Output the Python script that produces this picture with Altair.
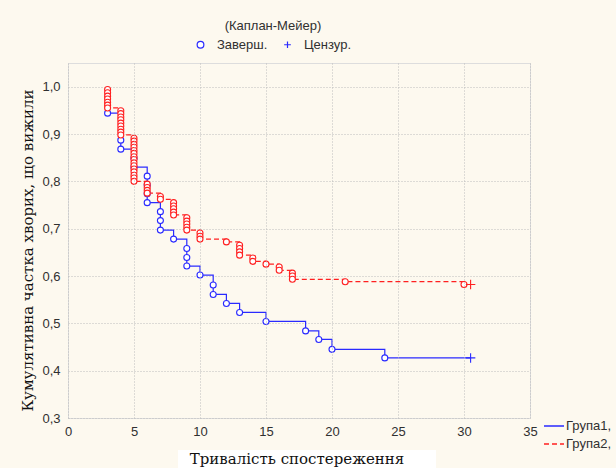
import altair as alt
import pandas as pd

# ---- data ----
groups = ["Група1,", "Група2,"]
kinds = ["Заверш.", "Цензур."]
colors = ["#2a2aff", "#ff2020"]

g1_time = [3, 4, 4, 5, 5, 6, 6, 6, 6, 7, 7, 7, 8, 9, 9, 9, 10, 11, 11, 12, 13, 15, 18, 19, 20, 24]
g1_surv = [0.944, 0.887, 0.868, 0.849, 0.830, 0.811, 0.792, 0.774, 0.755, 0.736, 0.717, 0.697,
           0.678, 0.658, 0.639, 0.621, 0.602, 0.581, 0.561, 0.542, 0.523, 0.504, 0.484, 0.466,
           0.445, 0.427]
g1_cens_time = [30.5]
g1_cens_surv = [0.427]

g2_time = [3, 3, 3, 3, 3, 3, 3,
           4, 4, 4, 4, 4, 4, 4, 4, 4,
           5, 5, 5, 5, 5, 5, 5, 5, 5, 5, 5, 5, 5, 5, 5,
           6, 6, 6, 6,
           7, 7,
           8, 8, 8, 8, 8,
           9, 9, 9, 9, 9,
           10, 10, 10,
           12,
           13, 13, 13, 13,
           14, 14,
           15,
           16, 16,
           17, 17, 17,
           21,
           30]
g2_surv = [0.994, 0.987, 0.980, 0.974, 0.967, 0.961, 0.955,
           0.949, 0.943, 0.936, 0.930, 0.923, 0.917, 0.910, 0.904, 0.898,
           0.891, 0.885, 0.878, 0.872, 0.865, 0.859, 0.852, 0.846, 0.839, 0.833, 0.826, 0.820,
           0.813, 0.807, 0.800,
           0.794, 0.787, 0.781, 0.775,
           0.768, 0.762,
           0.755, 0.748, 0.742, 0.735, 0.729,
           0.723, 0.716, 0.710, 0.703, 0.697,
           0.691, 0.684, 0.678,
           0.672,
           0.665, 0.658, 0.651, 0.644,
           0.638, 0.631,
           0.625,
           0.619, 0.612,
           0.606, 0.600, 0.593,
           0.588,
           0.582]
g2_cens_time = [30.5]
g2_cens_surv = [0.582]

x_ticks = [0, 5, 10, 15, 20, 25, 30, 35]
y_ticks = [0.3, 0.4, 0.5, 0.6, 0.7, 0.8, 0.9, 1.0]

# ---- tables ----
line_rows, pt_rows = [], []
series = [
    (groups[0], g1_time, g1_surv, g1_cens_time, g1_cens_surv),
    (groups[1], g2_time, g2_surv, g2_cens_time, g2_cens_surv),
]
for g, tt, ss, ct, cs in series:
    i = 0
    for t, s in zip(tt, ss):
        line_rows.append({"t": t, "s": s, "group": g, "idx": i}); i += 1
        pt_rows.append({"t": t, "s": s, "group": g, "kind": kinds[0], "ksz": "a"})
    for t, s in zip(ct, cs):
        line_rows.append({"t": t, "s": s, "group": g, "idx": i}); i += 1
        pt_rows.append({"t": t, "s": s, "group": g, "kind": kinds[1], "ksz": "b"})
line_df = pd.DataFrame(line_rows)
pt_df = pd.DataFrame(pt_rows)

SANS = "Liberation Sans"
SERIF = "DejaVu Serif"
TXT = "#303030"

xscale = alt.Scale(domain=[0, 35], nice=False, zero=False)
yscale = alt.Scale(domain=[0.3, 1.05], nice=False, zero=False)
shape_scale = alt.Scale(domain=kinds, range=["circle", "M-1,0H1M0,-1V1"])
size_scale = alt.Scale(domain=["a", "b"], range=[36, 90])

xaxis = alt.Axis(values=x_ticks, title="Тривалість спостереження", titleFont=SERIF,
                 titleFontSize=15, titleFontWeight="normal", titleColor="#111111",
                 titleX=228.5, titleY=45.5, titleAlign="center", titleBaseline="alphabetic",
                 labelFont=SANS, labelFontSize=13, labelColor=TXT, labelPadding=7,
                 ticks=False, domain=False, grid=True, gridColor="#bdbdbd",
                 gridDash=[1, 2], labelFlush=False, zindex=1)
yaxis = alt.Axis(values=y_ticks, title="Кумулятивна частка хворих, що вижили", titleFont=SERIF,
                 titleFontSize=15, titleFontWeight="normal", titleColor="#111111",
                 titleAngle=270, titleX=-41, titleY=187, titleAlign="center",
                 titleBaseline="middle",
                 labelExpr="replace(format(datum.value, '.1f'), '.', ',')",
                 labelFont=SANS, labelFontSize=13, labelColor=TXT, labelPadding=8,
                 ticks=False, domain=False, grid=True, gridColor="#bdbdbd",
                 gridDash=[1, 2], labelFlush=False)

grp_legend = alt.Legend(orient="none", legendX=475, legendY=352, symbolType="stroke",
                        symbolSize=400, symbolStrokeWidth=1.3, labelFont=SANS,
                        labelFontSize=13, labelColor=TXT, labelOffset=1, rowPadding=0)

kind_legend = alt.Legend(orient="none", legendX=126, legendY=-43,
                         direction="horizontal", titleAnchor="middle",
                         titleFont=SANS, titleFontSize=13, titleFontWeight="normal",
                         titleColor=TXT, titlePadding=5, labelFont=SANS,
                         labelFontSize=13, labelColor=TXT, labelOffset=10,
                         columnPadding=13, symbolSize=45, symbolStrokeWidth=1.2)

box = alt.Chart(alt.Data(values=[{"a": 1}])).mark_rect(color="white").encode(
    x=alt.value(110), x2=alt.value(368), y=alt.value(387), y2=alt.value(405))

lines = alt.Chart(line_df).mark_line(interpolate="step-after", strokeWidth=1.2).encode(
    x=alt.X("t:Q", scale=xscale, axis=xaxis),
    y=alt.Y("s:Q", scale=yscale, axis=yaxis),
    color=alt.Color("group:N", scale=alt.Scale(domain=groups, range=colors),
                    legend=grp_legend, title=None),
    strokeDash=alt.StrokeDash("group:N", scale=alt.Scale(domain=groups, range=[[1, 0], [5, 3]]),
                              legend=grp_legend, title=None),
    order=alt.Order("idx:Q"),
)

base_pts = alt.Chart(pt_df)

pts_blue = base_pts.transform_filter(alt.datum.group == groups[0]).mark_point(
    filled=False, stroke=colors[0], fill="white", strokeWidth=1.1, opacity=1).encode(
    x=alt.X("t:Q", scale=xscale),
    y=alt.Y("s:Q", scale=yscale),
    shape=alt.Shape("kind:N", scale=shape_scale, title="(Каплан-Мейер)", legend=kind_legend),
    size=alt.Size("ksz:N", scale=size_scale, legend=None),
)

pts_red = base_pts.transform_filter(alt.datum.group == groups[1]).mark_point(
    filled=False, stroke=colors[1], fill="white", strokeWidth=1.1, opacity=1).encode(
    x=alt.X("t:Q", scale=xscale),
    y=alt.Y("s:Q", scale=yscale),
    shape=alt.Shape("kind:N", scale=shape_scale, legend=None),
    size=alt.Size("ksz:N", scale=size_scale, legend=None),
)

chart = alt.layer(box, lines, pts_blue, pts_red).properties(
    width=462, height=355,
    padding={"left": 68, "top": 63, "right": 86, "bottom": 50},
    autosize=alt.AutoSizeParams(type="none"),
    background="#fdf9ef",
).configure_view(fill="white", stroke="#505050", strokeWidth=1.5).configure(font=SANS)

chart.save("out.html", embed_options={"renderer": "svg", "actions": False})
